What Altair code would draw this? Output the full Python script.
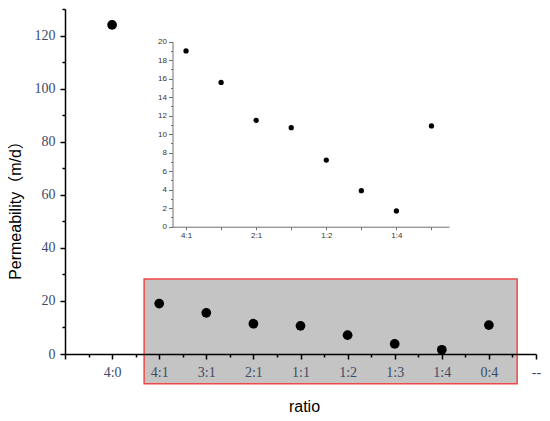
import json
import altair as alt
import pandas as pd

# ---- data ----
main_labels = ["4:0", "4:1", "3:1", "2:1", "1:1", "1:2", "1:3", "1:4", "0:4"]
main_values = [124.0, 19.0, 15.5, 11.4, 10.6, 7.1, 3.8, 1.6, 10.9]

inset_labels = ["4:1", "3:1", "2:1", "1:1", "1:2", "1:3", "1:4", "0:4"]
inset_values = [19.0, 15.6, 11.5, 10.7, 7.2, 3.9, 1.7, 10.9]

x_tick_labels = [""] + main_labels + ["--"]          # positions 0..10
inset_tick_labels = ["4:1", "", "2:1", "", "1:2", "", "1:4", ""]  # positions 1..8

box_x = [1.68, 9.60]     # highlighted region (main data units)
box_y = [-11.2, 28.3]

main_df = pd.DataFrame({"pos": list(range(1, len(main_labels) + 1)),
                        "ratio": main_labels, "perm": main_values})
inset_df = pd.DataFrame({"pos": list(range(1, len(inset_labels) + 1)),
                         "ratio": inset_labels, "perm": inset_values})
box_df = pd.DataFrame({"x0": [box_x[0]], "x1": [box_x[1]],
                       "y0": [box_y[0]], "y1": [box_y[1]]})

LABEL_COLOR = "#3d4a66"
TITLE_FONT = "Liberation Sans, 'Noto Sans CJK SC', sans-serif"

x_scale = alt.Scale(domain=[0, 10], nice=False, zero=False)
y_scale = alt.Scale(domain=[0, 130], nice=False, zero=False)

x_axis = alt.Axis(
    title="ratio",
    values=[i * 0.5 for i in range(21)],
    labelExpr="datum.value % 1 === 0 ? " + json.dumps(x_tick_labels) + "[datum.value] : ''",
    tickSize={"condition": {"test": "datum.value % 1 === 0", "value": 5}, "value": 3},
    tickColor="black", tickWidth=1.5,
    domainColor="black", domainWidth=1.5,
    labelFont="Liberation Serif", labelFontSize=14, labelColor=LABEL_COLOR,
    labelPadding=6, labelFlush=False, labelOverlap=False,
    grid=False, zindex=1,
    titleFont=TITLE_FONT, titleFontSize=16, titleFontWeight="normal",
    titleColor="black", titleX=239, titleY=52, titleBaseline="middle", titleAlign="center",
)
y_axis = alt.Axis(
    title="Permeability（m/d）",
    values=list(range(0, 131, 10)),
    labelExpr="datum.value % 20 === 0 ? '' + datum.value : ''",
    tickSize={"condition": {"test": "datum.value % 20 === 0", "value": 5}, "value": 3},
    tickColor="black", tickWidth=1.5,
    domainColor="black", domainWidth=1.5,
    labelFont="Liberation Serif", labelFontSize=14, labelColor=LABEL_COLOR,
    labelPadding=5, labelFlush=False, labelOverlap=False,
    grid=False, zindex=1,
    titleFont=TITLE_FONT, titleFontSize=16, titleFontWeight="normal",
    titleColor="black", titleX=-50, titleY=197, titleBaseline="middle", titleAlign="center",
)

box = alt.Chart(box_df).mark_rect(
    fill="#c4c4c4", stroke="#f04848", strokeWidth=1.5
).encode(
    x=alt.X("x0:Q", scale=x_scale, axis=x_axis),
    x2="x1:Q",
    y=alt.Y("y0:Q", scale=y_scale, axis=y_axis),
    y2="y1:Q",
)

main_pts = alt.Chart(main_df).mark_circle(size=95, color="black", opacity=1).encode(
    x=alt.X("pos:Q", scale=x_scale, axis=x_axis),
    y=alt.Y("perm:Q", scale=y_scale, axis=y_axis),
)

main_layer = alt.layer(box, main_pts)

# ---- inset ----
ix_scale = alt.Scale(domain=[0.6, 8.5], range=[107, 384], nice=False, zero=False)
iy_scale = alt.Scale(domain=[0, 20], range=[217.7, 32.7], nice=False, zero=False)

ix_axis = alt.Axis(
    orient="bottom", offset=-127.3, title="",
    values=list(range(1, 9)),
    labelExpr=json.dumps(inset_tick_labels) + "[datum.value - 1]",
    tickSize=3, tickColor="#707070", tickWidth=1,
    domainColor="#707070", domainWidth=1,
    labelFont="Liberation Sans", labelFontSize=8, labelColor="#333333",
    labelPadding=2, labelFlush=False, labelOverlap=False, grid=False,
)
iy_axis = alt.Axis(
    orient="left", offset=-107.5, title="",
    values=list(range(0, 21)),
    labelExpr="datum.value % 2 === 0 ? '' + datum.value : ''",
    tickSize={"condition": {"test": "datum.value % 2 === 0", "value": 4}, "value": 2},
    tickColor="#707070", tickWidth=1,
    domainColor="#707070", domainWidth=1,
    labelFont="Liberation Sans", labelFontSize=8, labelColor="#333333",
    labelPadding=2, labelFlush=False, labelOverlap=False, grid=False,
)

inset_pts = alt.Chart(inset_df).mark_circle(size=28, color="black", opacity=1).encode(
    x=alt.X("pos:Q", scale=ix_scale, axis=ix_axis),
    y=alt.Y("perm:Q", scale=iy_scale, axis=iy_axis),
)

chart = alt.layer(main_layer, inset_pts).resolve_scale(
    x="independent", y="independent"
).properties(
    width=471, height=345,
    autosize=alt.AutoSizeParams(type="none"),
    padding={"left": 57, "top": 1, "right": 6, "bottom": 59},
    background="white",
).configure_view(strokeOpacity=0)

chart.save("out.html", embed_options={"renderer": "svg", "actions": False})
